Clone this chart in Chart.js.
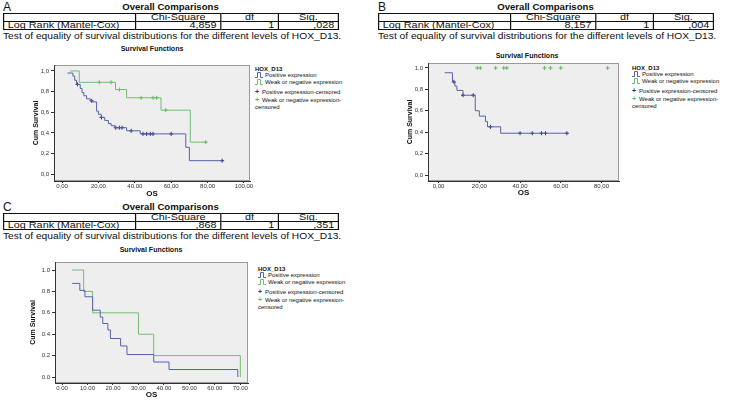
<!DOCTYPE html>
<html>
<head>
<meta charset="utf-8">
<script src="https://cdn.jsdelivr.net/npm/chart.js@4.4.1/dist/chart.umd.min.js"></script>
<style>
  body { margin: 0; width: 750px; height: 400px; position: relative; overflow: hidden; background: #fff;
         font-family: "Liberation Sans", Arial, sans-serif; color: #111; }
  .abs { position: absolute; white-space: nowrap; }
  .letter { font-size: 12px; line-height: 12px; }
  .oc { font-size: 9.6px; font-weight: bold; width: 335px; text-align: center; line-height: 10px; }
  .test { font-size: 9px; line-height: 10px; transform: scaleX(1.135); transform-origin: 0 0; }
  .sf { font-size: 7px; font-weight: bold; line-height: 8px; transform: translateX(-50%); }
  table.stat { position: absolute; border-collapse: collapse; table-layout: fixed; font-size: 9px;
               border: 1.5px solid #111; transform: scaleX(1.2); transform-origin: 0 0; }
  table.stat td { border: 1px solid #111; height: 7px; line-height: 7px; padding: 0 3px; overflow: visible;
                  white-space: nowrap; }
  table.stat td.c { text-align: center; }
  table.stat td.r { text-align: right; }
  .leg { font-size: 6px; line-height: 7px; }
  .leg .t { font-weight: bold; }
  .leg svg { vertical-align: -1px; margin-right: 2px; }
  .leg .plus { display: inline-block; width: 7px; font-weight: bold; font-size: 7px; }
  canvas { position: absolute; }
</style>
</head>
<body>
<div id="page"></div>
<canvas id="kmA" width="238" height="146" style="left:20px;top:60px"></canvas>
<canvas id="kmB" width="239" height="148" style="left:394px;top:58px"></canvas>
<canvas id="kmC" width="235" height="142" style="left:21px;top:258px"></canvas>
<script>
// table values per panel (A, B, C)
const panelLetters = ["A", "B", "C"];
const chiSquare = ["4,859", "8,157", ",868"];
const dfValues = ["1", "1", "1"];
const sigValues = [",028", ",004", ",351"];

const groups = ["Positive expression", "Weak or negative expression"];

// axis ticks
const yTicks = [0, 0.2, 0.4, 0.6, 0.8, 1.0];
const yLabelsComma = ["0,0", "0,2", "0,4", "0,6", "0,8", "1,0"];
const yLabelsDot = ["0.0", "0.2", "0.4", "0.6", "0.8", "1.0"];
const xTicksA = [0, 20, 40, 60, 80, 100];
const xLabelsA = ["0,00", "20,00", "40,00", "60,00", "80,00", "100,00"];
const xTicksB = [0, 20, 40, 60, 80];
const xLabelsB = ["0,00", "20,00", "40,00", "60,00", "80,00"];
const xTicksC = [0, 10, 20, 30, 40, 50, 60, 70];
const xLabelsC = ["0.00", "10.00", "20.00", "30.00", "40.00", "50.00", "60.00", "70.00"];

// A: survival steps (time, cumulative survival) and censored times
const aPosTime = [3, 6, 7, 8, 10, 11, 12, 13.5, 15.5, 17, 19, 20, 21.5, 23.5, 25.5, 27, 29, 35.5, 43, 68, 70, 88];
const aPosSurv = [0.98, 0.95, 0.91, 0.87, 0.83, 0.79, 0.76, 0.73, 0.71, 0.70, 0.61, 0.58, 0.55, 0.52, 0.49, 0.47, 0.45, 0.42, 0.39, 0.26, 0.13, 0.13];
const aPosCens = [8.5, 16.3, 21.7, 29.5, 31.5, 33, 38, 44.5, 46.5, 48.5, 50, 60, 88];
const aNegTime = [4.5, 9.5, 29.4, 35.5, 54.4, 70.5, 79];
const aNegSurv = [1, 0.89, 0.82, 0.74, 0.62, 0.31, 0.31];
const aNegCens = [20.5, 27, 31.5, 43.5, 50, 52, 57, 79];

// B
const bPosTime = [3, 6.8, 8, 9, 12, 18, 20, 23, 24, 30.5, 63];
const bPosSurv = [0.955, 0.87, 0.83, 0.79, 0.745, 0.60, 0.55, 0.50, 0.45, 0.39, 0.39];
const bPosCens = [7.5, 12, 17, 25.5, 40, 46, 50.5, 52.5, 63];
const bNegTime = [];
const bNegSurv = [];
const bNegCens = [19, 20.5, 28, 32, 33.5, 52, 55, 60, 83];

// C
const cPosTime = [4, 7, 9, 12, 15, 16, 18, 19, 23, 25.5, 36, 42, 69];
const cPosSurv = [0.875, 0.81, 0.75, 0.625, 0.56, 0.50, 0.44, 0.36, 0.29, 0.21, 0.14, 0.07, 0];
const cPosCens = [];
const cNegTime = [4, 8.5, 12, 30, 36, 70];
const cNegSurv = [1, 0.8, 0.6, 0.4, 0.2, 0];
const cNegCens = [];

const BLUE = "#5862a8";
const GREEN = "#74bd70";
const BLUE_MARK = "#2a3180";
const GREEN_MARK = "#62b95e";
const FONT = "'Liberation Sans', Arial, sans-serif";

// ---- header text and tables ----
const page = document.getElementById("page");
const offsets = [[0, 0], [375, 0], [0, 200]];
const sfCenters = [[152, 45], [527, 52], [151, 246]];
let html = "";
offsets.forEach(([ox, oy], i) => {
  html += `<div class="abs letter" style="left:${ox + 3}px;top:${oy + 1}px">${panelLetters[i]}</div>`;
  html += `<div class="abs oc" style="left:${ox + 3}px;top:${oy + 2}px">Overall Comparisons</div>`;
  html += `<table class="stat" style="left:${ox + 3}px;top:${oy + 13}px;width:279px">
    <colgroup><col style="width:110px"><col style="width:71px"><col style="width:48px"><col style="width:50px"></colgroup>
    <tr><td></td><td class="c">Chi-Square</td><td class="c">df</td><td class="c">Sig.</td></tr>
    <tr><td>Log Rank (Mantel-Cox)</td><td class="r">${chiSquare[i]}</td><td class="r">${dfValues[i]}</td><td class="r">${sigValues[i]}</td></tr>
  </table>`;
  html += `<div class="abs test" style="left:${ox + 3}px;top:${oy + 31}px">Test of equality of survival distributions for the different levels of HOX_D13.</div>`;
  html += `<div class="abs sf" style="left:${sfCenters[i][0]}px;top:${sfCenters[i][1]}px">Survival Functions</div>`;
});

// legends
function stepIcon(color) {
  return `<svg width="8" height="6"><path d="M0 5.5 H2.5 V0.5 H5.5 V5.5 H8" fill="none" stroke="${color}" stroke-width="1"/></svg>`;
}
const legendPos = [[255, 65.5], [632, 64.5], [258, 265.5]];
legendPos.forEach(([lx, ly]) => {
  const rows = [
    [0, `<span class="t">HOX_D13</span>`],
    [6, stepIcon(BLUE) + groups[0]],
    [13, stepIcon(GREEN) + groups[1]],
    [22, `<span class="plus" style="color:${BLUE_MARK}">+</span>${groups[0]}-censored`],
    [30, `<span class="plus" style="color:${GREEN_MARK}">+</span>${groups[1]}-`],
    [38, `censored`]
  ];
  rows.forEach(([dy, txt]) => {
    html += `<div class="abs leg" style="left:${lx}px;top:${ly + dy}px">${txt}</div>`;
  });
});
page.innerHTML = html;

// ---- charts ----
function survAt(times, surv, t) {
  let s = 1;
  for (let i = 0; i < times.length; i++) if (times[i] <= t) s = surv[i];
  return s;
}

const plotBg = {
  id: "plotBg",
  beforeDraw(chart) {
    const { ctx, chartArea: a } = chart;
    ctx.save();
    ctx.fillStyle = "#eeeeee";
    ctx.fillRect(a.left, a.top, a.width, a.height);
    ctx.strokeStyle = "#9a9a9a";
    ctx.lineWidth = 1;
    ctx.strokeRect(a.left + 0.5, a.top + 0.5, a.width - 1, a.height - 1);
    ctx.restore();
  }
};

function drawKm(id, o) {
  const datasets = [];
  o.curves.forEach(c => {
    if (c.time.length) {
      datasets.push({
        type: "line",
        data: c.time.map((t, i) => ({ x: t, y: c.surv[i] })),
        borderColor: c.color, borderWidth: 1, pointRadius: 0, stepped: true, fill: false
      });
    }
  });
  o.curves.forEach(c => {
    datasets.push({
      type: "scatter",
      data: c.cens.map(t => ({ x: t, y: c.time.length ? survAt(c.time, c.surv, t) : 1 })),
      pointStyle: "cross", pointRadius: 2, borderColor: c.mark, borderWidth: 1
    });
  });

  return new Chart(document.getElementById(id), {
    type: "scatter",
    data: { datasets },
    options: {
      responsive: false,
      animation: false,
      layout: { padding: { top: o.padTop, right: o.padRight, left: 0, bottom: 0 } },
      plugins: { legend: { display: false }, tooltip: { enabled: false } },
      scales: {
        x: {
          type: "linear", min: o.xMin, max: o.xMax,
          afterBuildTicks: s => { s.ticks = o.xTicks.map(v => ({ value: v })); },
          afterFit: s => { s.height = o.xH; s.paddingLeft = 0; s.paddingRight = 0; },
          ticks: { callback: (v, i) => o.xLabels[i], font: { size: 6, family: FONT }, color: "#333",
                   padding: 0, maxRotation: 0, minRotation: 0, autoSkip: false },
          grid: { drawOnChartArea: false, tickLength: 2, color: "#333" },
          border: { color: "#333" },
          title: { display: true, text: "OS", color: "#111", font: { size: 8, weight: "bold", family: FONT },
                   padding: { top: 0, bottom: o.osPad } }
        },
        y: {
          min: o.yMin, max: o.yMax,
          afterBuildTicks: s => { s.ticks = yTicks.map(v => ({ value: v })); },
          afterFit: s => { s.width = o.yW; s.paddingTop = 0; s.paddingBottom = 0; },
          ticks: { callback: (v, i) => o.yLabels[i], font: { size: 6, family: FONT }, color: "#333", padding: 2 },
          grid: { drawOnChartArea: false, tickLength: 3, color: "#333" },
          border: { color: "#333" },
          title: { display: true, text: "Cum Survival", color: "#111", font: { size: 7, weight: "bold", family: FONT },
                   padding: { top: o.yTitlePad, bottom: 0 } }
        }
      }
    },
    plugins: [plotBg]
  });
}

drawKm("kmA", {
  curves: [
    { time: aPosTime, surv: aPosSurv, cens: aPosCens, color: BLUE, mark: BLUE_MARK },
    { time: aNegTime, surv: aNegSurv, cens: aNegCens, color: GREEN, mark: GREEN_MARK }
  ],
  xMin: -4.4, xMax: 103.3, yMin: -0.067, yMax: 1.058,
  xTicks: xTicksA, xLabels: xLabelsA, yLabels: yLabelsComma,
  padTop: 4, padRight: 8, yW: 34, xH: 25, osPad: 7.2, yTitlePad: 11.8
});

drawKm("kmB", {
  curves: [
    { time: bPosTime, surv: bPosSurv, cens: bPosCens, color: BLUE, mark: BLUE_MARK },
    { time: bNegTime, surv: bNegSurv, cens: bNegCens, color: GREEN, mark: GREEN_MARK }
  ],
  xMin: -5.2, xMax: 88.6, yMin: -0.056, yMax: 1.046,
  xTicks: xTicksB, xLabels: xLabelsB, yLabels: yLabelsComma,
  padTop: 4, padRight: 14, yW: 34, xH: 25, osPad: 8.2, yTitlePad: 11.8
});

drawKm("kmC", {
  curves: [
    { time: cPosTime, surv: cPosSurv, cens: cPosCens, color: BLUE, mark: BLUE_MARK },
    { time: cNegTime, surv: cNegSurv, cens: cNegCens, color: GREEN, mark: GREEN_MARK }
  ],
  xMin: -2.75, xMax: 73, yMin: -0.056, yMax: 1.075,
  xTicks: xTicksC, xLabels: xLabelsC, yLabels: yLabelsDot,
  padTop: 4, padRight: 8, yW: 34, xH: 17, osPad: 0.2, yTitlePad: 7.8
});
</script>
</body>
</html>
